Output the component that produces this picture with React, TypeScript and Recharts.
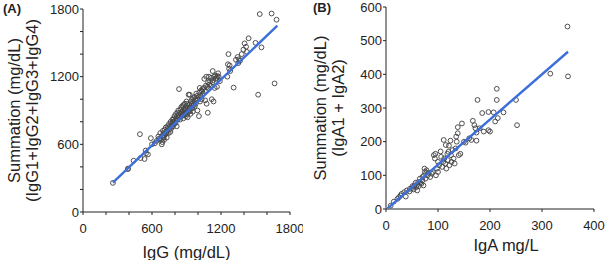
import React from "react";
import { ScatterChart, Scatter, XAxis, YAxis, Label } from "recharts";

const FONT = "Arial, 'Liberation Sans', sans-serif";

// Panel A: IgG vs summation of subclasses (mg/dL)
const igGx = [260,390,392,440,495,500,535,545,548,565,590,600,625,640,655,660,668,672,680,685,690,692,695,700,702,
705,710,712,718,720,725,728,732,735,740,745,748,752,755,760,762,768,770,775,778,
782,785,790,792,795,800,805,808,812,815,818,822,825,828,832,835,838,842,845,848,852,855,858,
862,865,868,870,872,875,878,880,884,886,890,892,895,898,900,904,906,910,912,915,918,920,925,928,930,935,938,
940,945,948,950,955,958,962,965,970,972,978,980,985,988,992,995,1000,1005,1008,1012,1015,1018,
1022,1028,1032,1035,1040,1045,1050,1055,1060,1062,1068,1072,1075,1080,1085,1088,1092,1095,1098,
1105,1110,1115,1120,1125,1128,1132,1135,1140,1145,1150,1155,1160,1165,1170,1175,1180,1190,
1255,1260,1265,1270,1275,1280,1310,1330,1345,1350,1358,1365,1380,1395,1405,1418,1425,1440,1500,1523,1537,1552,1640,1666,1683];
const sumGy = [258,380,385,455,690,478,470,545,520,510,655,600,610,630,670,650,645,700,640,600,620,680,720,660,700,
640,680,730,690,750,700,660,720,760,740,700,780,730,760,710,800,770,745,790,820,
760,800,830,780,850,810,790,870,830,760,850,880,820,900,860,1090,840,880,820,910,870,930,850,
890,940,860,900,830,950,880,910,860,960,920,880,850,940,980,900,870,840,960,920,1040,890,950,1040,900,870,980,
930,960,1000,920,890,1010,950,980,1020,940,1000,960,1050,990,1030,900,1000,1020,850,1060,1100,980,
1030,1080,1000,1070,1090,1050,1100,1180,1070,990,1120,1200,960,1110,880,1150,1100,1200,1130,
1160,1120,1190,1000,1150,1250,1170,980,1200,1100,1210,1180,1190,1110,1205,1230,1200,1160,
1200,1310,1400,1270,1300,1250,1103,1350,1375,1320,1355,1340,1400,1440,1495,1465,1420,1540,1500,1040,1755,1460,1760,1140,1705];
const fitAx = [260, 1690];
const fitAy = [260, 1652];
const ticksA = [0,200,400,600,800,1000,1200,1400,1600,1800];

// Panel B: IgA vs summation IgA1 + IgA2
const igAx = [9,15,22,25,28,30,35,38,40,45,46,50,51,53,55,57,58,60,60,62,63,65,66,68,70,70,72,73,74,75,76,78,80,82,85,88,90,
92,94,95,96,98,100,100,102,105,106,108,110,111,112,114,115,116,118,119,120,121,122,124,125,126,128,130,132,134,135,136,138,138,
140,143,146,150,153,160,164,167,170,172,174,174,176,180,185,188,197,197,200,207,210,213,213,215,226,250,252,316,349,350];
const sumAy = [10,22,30,35,40,45,50,37,55,52,60,62,68,58,70,78,65,72,55,80,68,90,78,75,85,95,70,100,120,110,90,115,100,108,95,105,110,
160,150,164,100,120,110,140,130,171,155,125,140,205,150,135,190,120,164,145,170,188,130,203,160,140,175,150,135,180,215,200,225,243,
160,164,254,200,197,210,205,262,249,240,203,227,324,240,285,230,234,288,230,287,260,324,357,270,287,324,249,402,542,394];
const fitBx = [3, 350];
const fitBy = [2, 467];
const ticksBx = [0,100,200,300,400];
const ticksBy = [0,100,200,300,400,500,600];

const zip = (xs: number[], ys: number[]) => xs.map((x, i) => ({ x, y: ys[i] }));

const Dot = (props: any) => {
  const { cx, cy } = props;
  if (cx == null || cy == null) return null;
  return <circle cx={cx} cy={cy} r={2.4} fill="none" stroke="#474747" strokeWidth={0.95} />;
};
const NoDot = () => null;

const tickStyle = { fontSize: 13, fill: "#222", fontFamily: FONT };

const YTitle = (lines: string[], cxFirst: number, gap: number) => (props: any) => {
  const vb = props.viewBox || {};
  const cy = vb.y + vb.height / 2;
  return (
    <g>
      {lines.map((t, i) => {
        const x = cxFirst + i * gap;
        return (
          <text key={i} x={x} y={cy} transform={`rotate(-90 ${x} ${cy})`} textAnchor="middle"
            dominantBaseline="central" fontSize={16.5} fontFamily={FONT} fill="#222">{t}</text>
        );
      })}
    </g>
  );
};

export default function App() {
  const dataA = zip(igGx, sumGy);
  const fitA = zip(fitAx, fitAy);
  const dataB = zip(igAx, sumAy);
  const fitB = zip(fitBx, fitBy);
  const fmtA = (v: number) => (v % 600 === 0 ? String(v) : "");
  return (
    <div style={{ position: "absolute", left: 0, top: 0, width: 606, height: 260, background: "#fff", fontFamily: FONT }}>
      <div style={{ position: "absolute", left: 0, top: 0 }}>
        <ScatterChart width={303} height={260} margin={{ top: 9, right: 13, bottom: 0, left: 0 }}>
          <XAxis type="number" dataKey="x" domain={[0, 1800]} ticks={ticksA} tickFormatter={fmtA}
            interval={0} height={48} tickSize={3} tickMargin={9} tick={tickStyle}
            axisLine={{ stroke: "#222" }} tickLine={{ stroke: "#222" }}>
            <Label value="IgG (mg/dL)" position="insideBottom" offset={2} fontSize={16.5} fontFamily={FONT} fill="#222" />
          </XAxis>
          <YAxis type="number" dataKey="y" domain={[0, 1800]} ticks={ticksA} tickFormatter={fmtA}
            interval={0} width={83} tickSize={3} tickMargin={1} tick={tickStyle}
            axisLine={{ stroke: "#222" }} tickLine={{ stroke: "#222" }}>
            <Label content={YTitle(["Summation (mg/dL)", "(IgG1+IgG2+IgG3+IgG4)"], 14, 18)} />
          </YAxis>
          <Scatter data={dataA} shape={Dot} isAnimationActive={false} />
          <Scatter data={fitA} shape={NoDot} line={{ stroke: "#3c6fd9", strokeWidth: 2.4 }} isAnimationActive={false} />
        </ScatterChart>
        <div style={{ position: "absolute", left: 3, top: 1, fontSize: 13, fontWeight: "bold", fontFamily: FONT, color: "#222" }}>(A)</div>
      </div>
      <div style={{ position: "absolute", left: 303, top: 0 }}>
        <ScatterChart width={303} height={260} margin={{ top: 7, right: 12, bottom: 0, left: 0 }}>
          <XAxis type="number" dataKey="x" domain={[0, 400]} ticks={ticksBx}
            interval={0} height={51} tickSize={3} tickMargin={9} tick={tickStyle}
            axisLine={{ stroke: "#222" }} tickLine={{ stroke: "#222" }}>
            <Label value="IgA mg/L" position="insideBottom" offset={9} dx={16} fontSize={16.5} fontFamily={FONT} fill="#222" />
          </XAxis>
          <YAxis type="number" dataKey="y" domain={[0, 600]} ticks={ticksBy}
            interval={0} width={83} tickSize={3} tickMargin={1} tick={tickStyle}
            axisLine={{ stroke: "#222" }} tickLine={{ stroke: "#222" }}>
            <Label content={YTitle(["Summation (mg/dL)", "(IgA1 + IgA2)"], 17, 18)} />
          </YAxis>
          <Scatter data={dataB} shape={Dot} isAnimationActive={false} />
          <Scatter data={fitB} shape={NoDot} line={{ stroke: "#3c6fd9", strokeWidth: 2.4 }} isAnimationActive={false} />
        </ScatterChart>
        <div style={{ position: "absolute", left: 10, top: 0, fontSize: 13, fontWeight: "bold", fontFamily: FONT, color: "#222" }}>(B)</div>
      </div>
    </div>
  );
}
